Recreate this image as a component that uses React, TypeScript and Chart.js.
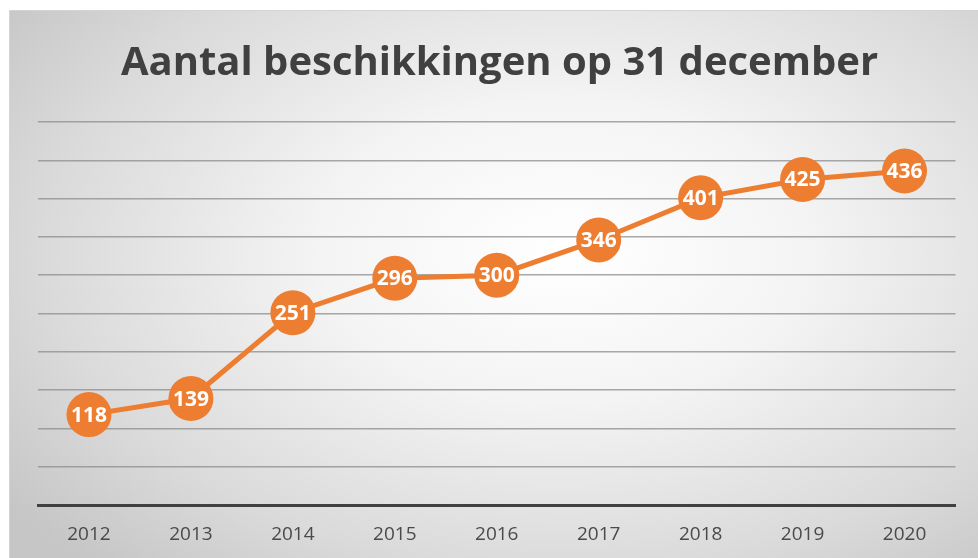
import React, { useEffect, useRef } from "react";
import { Chart, registerables } from "chart.js";

Chart.register(...registerables);

const years = ["2012", "2013", "2014", "2015", "2016", "2017", "2018", "2019", "2020"];
const beschikkingen = [118, 139, 251, 296, 300, 346, 401, 425, 436];
const chartTitle = "Aantal beschikkingen op 31 december";

const labelPlugin = {
  id: "pointLabels",
  afterDatasetsDraw(chart: any) {
    const ctx = chart.ctx;
    const meta = chart.getDatasetMeta(0);
    ctx.save();
    ctx.fillStyle = "#ffffff";
    ctx.font = "bold 21px 'Open Sans'";
    ctx.textAlign = "center";
    ctx.textBaseline = "middle";
    meta.data.forEach((pt: any, i: number) => {
      ctx.fillText(String(beschikkingen[i]), pt.x, pt.y + 1);
    });
    ctx.restore();
  },
};

export default function App() {
  const ref = useRef<HTMLCanvasElement>(null);
  useEffect(() => {
    if (!ref.current) return;
    const chart = new Chart(ref.current, {
      type: "line",
      data: {
        labels: years,
        datasets: [
          {
            data: beschikkingen,
            borderColor: "#ED7D31",
            backgroundColor: "#ED7D31",
            borderWidth: 5,
            pointRadius: 22.5,
            pointHoverRadius: 22.5,
            pointBorderWidth: 0,
            pointBackgroundColor: "#ED7D31",
            tension: 0,
            clip: false as any,
          },
        ],
      },
      options: {
        animation: false,
        responsive: false,
        layout: { padding: { top: 12, left: 38, right: 17, bottom: 0 } },
        plugins: {
          legend: { display: false },
          tooltip: { enabled: false },
          title: {
            display: true,
            text: chartTitle,
            color: "#404040",
            font: { family: "'Open Sans'", size: 40, weight: "bold", lineHeight: 1.2 },
            padding: { top: 28, bottom: 34 },
          },
        },
        scales: {
          x: {
            offset: true,
            grid: { display: false, drawTicks: false },
            border: { display: true, color: "#404040", width: 3 },
            ticks: { color: "#4a4a4a", font: { family: "'Open Sans'", size: 19, lineHeight: 1 }, padding: 20 },
          },
          y: {
            min: 0,
            max: 500,
            ticks: { display: false, stepSize: 50 },
            grid: { color: "rgba(140,140,140,0.75)", lineWidth: 1.5, drawTicks: false },
            border: { display: false },
          },
        },
      },
      plugins: [labelPlugin],
    });
    return () => chart.destroy();
  }, []);
  return (
    <div style={{ position: "fixed", left: 0, top: 0, width: 978, height: 558, overflow: "hidden" }}>
      <div
        style={{
          position: "absolute",
          left: 9,
          top: 10,
          width: 990,
          height: 570,
          border: "1px solid #d4d4d4",
          background:
            "radial-gradient(ellipse 70% 75% at 56% 42%, #ffffff 0%, #f4f4f4 35%, #dadada 75%, #c6c6c6 100%)",
        }}
      />
      <canvas ref={ref} width={978} height={564} style={{ position: "absolute", left: 0, top: 0 }} />
    </div>
  );
}
